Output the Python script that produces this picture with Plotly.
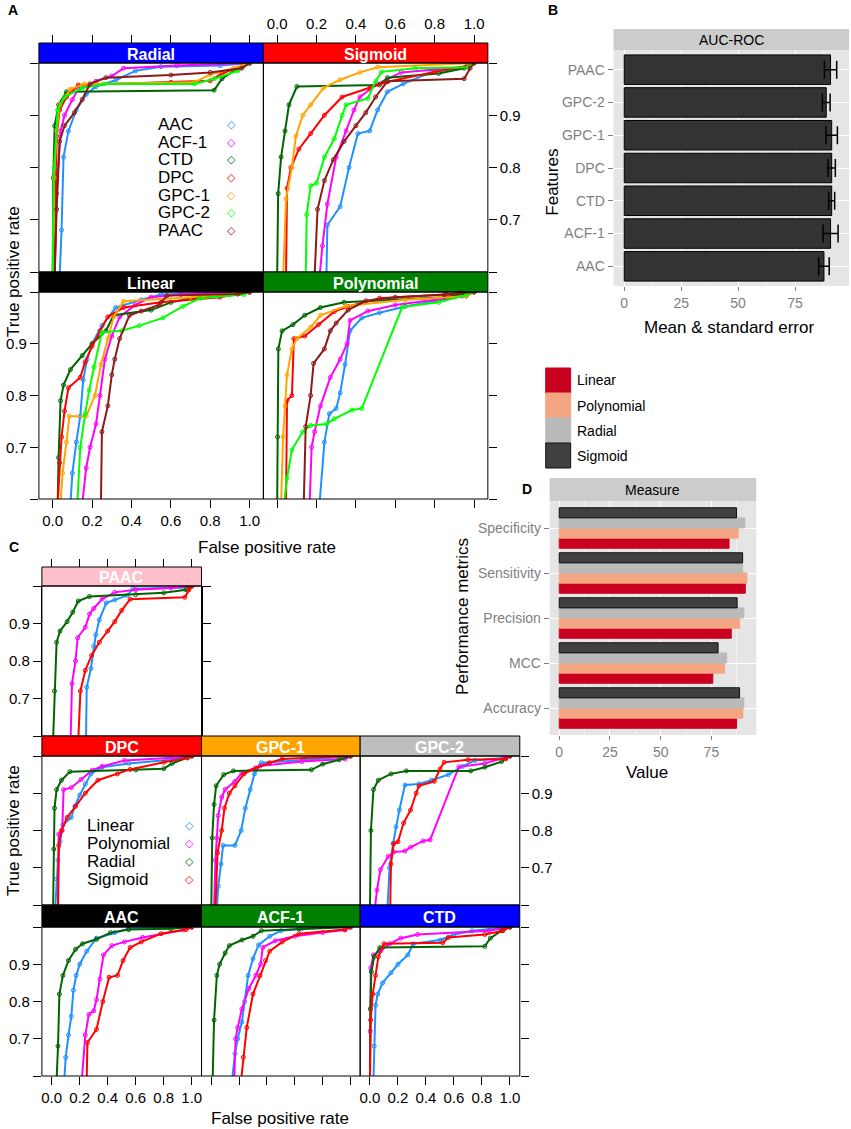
import plotly.graph_objects as go

W, H = 851, 1129
FONT = "Liberation Sans, Arial, sans-serif"

features = ["AAC", "ACF-1", "CTD", "DPC", "GPC-1", "GPC-2", "PAAC"]
kernels = ["Linear", "Polynomial", "Radial", "Sigmoid"]

feature_colors = {"AAC": "#1E90FF", "ACF-1": "#FF00FF", "CTD": "#006400", "DPC": "#FF0000",
                  "GPC-1": "#FFA500", "GPC-2": "#00FF00", "PAAC": "#8B1A1A"}
kernel_colors = {"Linear": "#1E90FF", "Polynomial": "#FF00FF", "Radial": "#006400", "Sigmoid": "#FF0000"}
kernel_strip = {"Radial": "#0000FF", "Sigmoid": "#FF0000", "Linear": "#000000", "Polynomial": "#008000"}
feature_strip = {"PAAC": "#FFC0CB", "DPC": "#FF0000", "GPC-1": "#FFA500", "GPC-2": "#BEBEBE",
                 "AAC": "#000000", "ACF-1": "#008000", "CTD": "#0000FF"}

# ROC curves (false positive rate / true positive rate)
radial_fpr = {
    "AAC": [0.035, 0.045, 0.055, 0.08, 0.12, 0.17, 0.22, 0.32, 0.42, 0.55, 0.85, 1.0],
    "ACF-1": [0.01, 0.02, 0.04, 0.06, 0.1, 0.13, 0.22, 0.3, 0.36, 0.63, 1.0],
    "CTD": [0.0, 0.003, 0.01, 0.03, 0.07, 0.82, 0.86, 0.94, 1.0],
    "DPC": [0.01, 0.015, 0.02, 0.035, 0.07, 0.13, 0.6, 0.8, 0.86, 0.97, 1.0],
    "GPC-1": [0.0, 0.007, 0.02, 0.035, 0.09, 0.16, 0.72, 0.8, 0.92, 1.0],
    "GPC-2": [0.0, 0.007, 0.025, 0.06, 0.15, 0.26, 0.72, 0.82, 0.94, 1.0],
    "PAAC": [0.01, 0.02, 0.035, 0.06, 0.11, 0.15, 0.19, 0.27, 0.6, 0.8, 0.96, 1.0],
}
radial_tpr = {
    "AAC": [0.59, 0.68, 0.82, 0.87, 0.91, 0.94, 0.955, 0.967, 0.985, 0.993, 0.995, 1.0],
    "ACF-1": [0.59, 0.75, 0.87, 0.9, 0.93, 0.95, 0.965, 0.975, 0.99, 0.995, 1.0],
    "CTD": [0.59, 0.78, 0.88, 0.92, 0.945, 0.948, 0.97, 0.99, 1.0],
    "DPC": [0.59, 0.75, 0.86, 0.91, 0.935, 0.958, 0.963, 0.966, 0.98, 0.995, 1.0],
    "GPC-1": [0.59, 0.78, 0.87, 0.92, 0.95, 0.96, 0.963, 0.978, 0.99, 1.0],
    "GPC-2": [0.59, 0.8, 0.91, 0.935, 0.952, 0.96, 0.96, 0.97, 0.985, 1.0],
    "PAAC": [0.59, 0.72, 0.85, 0.88, 0.905, 0.93, 0.96, 0.972, 0.977, 0.982, 0.99, 1.0],
}
sigmoid_fpr = {
    "AAC": [0.25, 0.255, 0.32, 0.365, 0.41, 0.47, 0.51, 0.56, 0.64, 0.78, 0.96, 1.0],
    "ACF-1": [0.215, 0.23, 0.255, 0.3, 0.35, 0.39, 0.42, 0.51, 0.63, 0.96, 1.0],
    "CTD": [0.0, 0.005, 0.02, 0.04, 0.06, 0.1, 0.52, 0.56, 0.82, 0.95, 1.0],
    "DPC": [0.045, 0.05, 0.07, 0.11, 0.17, 0.24, 0.33, 0.47, 0.56, 0.8, 0.97, 1.0],
    "GPC-1": [0.03, 0.045, 0.075, 0.095, 0.13, 0.17, 0.235, 0.32, 0.42, 0.51, 1.0],
    "GPC-2": [0.145, 0.15, 0.17, 0.2, 0.24, 0.29, 0.33, 0.35, 0.46, 0.5, 0.53, 0.7, 0.97, 1.0],
    "PAAC": [0.19, 0.205, 0.24, 0.285, 0.34, 0.4, 0.45, 0.5, 0.56, 0.95, 0.98, 1.0],
}
sigmoid_tpr = {
    "AAC": [0.59, 0.69, 0.725, 0.8, 0.865, 0.87, 0.91, 0.945, 0.96, 0.982, 0.993, 1.0],
    "ACF-1": [0.59, 0.65, 0.73, 0.82, 0.87, 0.91, 0.935, 0.96, 0.982, 0.993, 1.0],
    "CTD": [0.59, 0.75, 0.82, 0.87, 0.92, 0.955, 0.958, 0.972, 0.98, 0.99, 1.0],
    "DPC": [0.59, 0.76, 0.8, 0.835, 0.865, 0.9, 0.935, 0.952, 0.964, 0.983, 0.995, 1.0],
    "GPC-1": [0.59, 0.74, 0.8, 0.86, 0.9, 0.92, 0.952, 0.968, 0.982, 0.992, 1.0],
    "GPC-2": [0.59, 0.71, 0.765, 0.77, 0.82, 0.855, 0.9, 0.92, 0.932, 0.965, 0.983, 0.99, 0.992, 1.0],
    "PAAC": [0.59, 0.72, 0.775, 0.815, 0.85, 0.88, 0.905, 0.935, 0.965, 0.97, 0.99, 1.0],
}
linear_fpr = {
    "AAC": [0.09, 0.1, 0.12, 0.14, 0.155, 0.175, 0.2, 0.25, 0.32, 0.45, 0.55, 1.0],
    "ACF-1": [0.15, 0.17, 0.19, 0.22, 0.24, 0.265, 0.3, 0.34, 0.42, 0.5, 0.65, 1.0],
    "CTD": [0.025, 0.03, 0.04, 0.055, 0.09, 0.15, 0.2, 0.27, 0.31, 0.5, 0.6, 0.73, 1.0],
    "DPC": [0.025, 0.035, 0.045, 0.06, 0.08, 0.14, 0.165, 0.2, 0.24, 0.28, 0.36, 0.55, 0.85, 1.0],
    "GPC-1": [0.04, 0.05, 0.07, 0.085, 0.17, 0.215, 0.245, 0.28, 0.31, 0.36, 0.7, 1.0],
    "GPC-2": [0.125, 0.14, 0.165, 0.185, 0.21, 0.25, 0.35, 0.44, 0.56, 0.66, 0.75, 0.97, 1.0],
    "PAAC": [0.245, 0.25, 0.28, 0.3, 0.315, 0.34, 0.39, 0.45, 0.54, 0.58, 0.94, 1.0],
}
linear_tpr = {
    "AAC": [0.59, 0.65, 0.71, 0.76, 0.83, 0.87, 0.9, 0.935, 0.97, 0.985, 0.995, 1.0],
    "ACF-1": [0.59, 0.66, 0.7, 0.745, 0.8, 0.87, 0.915, 0.952, 0.975, 0.99, 0.995, 1.0],
    "CTD": [0.59, 0.68, 0.79, 0.82, 0.85, 0.877, 0.9, 0.925, 0.955, 0.965, 0.98, 0.99, 1.0],
    "DPC": [0.59, 0.67, 0.72, 0.77, 0.815, 0.835, 0.865, 0.895, 0.925, 0.952, 0.97, 0.98, 0.99, 1.0],
    "GPC-1": [0.59, 0.65, 0.71, 0.76, 0.76, 0.8, 0.86, 0.91, 0.952, 0.982, 0.99, 1.0],
    "GPC-2": [0.59, 0.7, 0.765, 0.81, 0.855, 0.922, 0.925, 0.935, 0.95, 0.972, 0.988, 0.995, 1.0],
    "PAAC": [0.59, 0.73, 0.78, 0.84, 0.87, 0.91, 0.955, 0.963, 0.975, 0.993, 0.996, 1.0],
}
poly_fpr = {
    "AAC": [0.215, 0.24, 0.265, 0.3, 0.32, 0.345, 0.37, 0.43, 0.52, 0.65, 0.94, 1.0],
    "ACF-1": [0.165, 0.175, 0.19, 0.22, 0.27, 0.32, 0.355, 0.37, 0.46, 0.6, 0.8, 0.96, 1.0],
    "CTD": [0.0, 0.002, 0.006, 0.025, 0.08, 0.14, 0.22, 0.34, 0.85, 1.0],
    "DPC": [0.045, 0.05, 0.075, 0.085, 0.14, 0.21, 0.29, 0.36, 0.52, 0.86, 1.0],
    "GPC-1": [0.02, 0.03, 0.04, 0.05, 0.075, 0.1, 0.17, 0.22, 0.35, 0.65, 0.96, 1.0],
    "GPC-2": [0.035, 0.05, 0.075, 0.13, 0.17, 0.25, 0.29, 0.38, 0.43, 0.635, 0.82, 0.96, 1.0],
    "PAAC": [0.135, 0.145, 0.17, 0.185, 0.24, 0.27, 0.3, 0.36, 0.45, 0.6, 0.85, 1.0],
}
poly_tpr = {
    "AAC": [0.59, 0.71, 0.765, 0.775, 0.805, 0.86, 0.925, 0.95, 0.96, 0.972, 0.992, 1.0],
    "ACF-1": [0.59, 0.7, 0.73, 0.78, 0.835, 0.87, 0.9, 0.945, 0.963, 0.975, 0.985, 0.992, 1.0],
    "CTD": [0.59, 0.72, 0.89, 0.925, 0.937, 0.955, 0.97, 0.98, 0.99, 1.0],
    "DPC": [0.59, 0.79, 0.8, 0.91, 0.915, 0.937, 0.962, 0.972, 0.988, 0.995, 1.0],
    "GPC-1": [0.59, 0.72, 0.78, 0.84, 0.89, 0.91, 0.932, 0.955, 0.973, 0.985, 0.992, 1.0],
    "GPC-2": [0.59, 0.64, 0.695, 0.73, 0.742, 0.745, 0.755, 0.772, 0.775, 0.971, 0.98, 0.994, 1.0],
    "PAAC": [0.59, 0.74, 0.8, 0.862, 0.89, 0.925, 0.94, 0.965, 0.983, 0.99, 0.995, 1.0],
}

# panel B: AUC-ROC mean and standard error per feature
auc_mean = [87.7, 90.6, 91.1, 91.1, 91.1, 88.7, 90.6]
auc_se = [2.3, 3.3, 1.3, 1.6, 2.5, 1.7, 2.7]

# panel D: performance metrics per kernel
metrics = ["Accuracy", "MCC", "Precision", "Sensitivity", "Specificity"]
linear_vals = [87.4, 75.7, 84.8, 91.7, 83.7]
poly_vals = [90.5, 81.5, 88.9, 92.5, 88.2]
radial_vals = [91.0, 82.5, 91.0, 90.4, 91.5]
sigmoid_vals = [88.9, 78.3, 87.7, 90.4, 87.4]
bar_colors = {"Linear": "#CA0020", "Polynomial": "#F4A582", "Radial": "#BABABA", "Sigmoid": "#404040"}

fpr = {"Linear": linear_fpr, "Polynomial": poly_fpr, "Radial": radial_fpr, "Sigmoid": sigmoid_fpr}
tpr = {"Linear": linear_tpr, "Polynomial": poly_tpr, "Radial": radial_tpr, "Sigmoid": sigmoid_tpr}
kernel_vals = {"Linear": linear_vals, "Polynomial": poly_vals, "Radial": radial_vals, "Sigmoid": sigmoid_vals}


def px(x):
    return x / W


def py(y):
    return 1 - y / H


fig = go.Figure()
layout = {}
shapes = []
annots = []


def note(text, x, y, size, color="black", xanchor="center", angle=0, family=None):
    f = dict(size=size, color=color)
    if family:
        f["family"] = family
    annots.append(dict(text=text, x=px(x), y=py(y), xref="paper", yref="paper", showarrow=False,
                       xanchor=xanchor, yanchor="middle", textangle=angle, font=f))


def ax_name(n, kind):
    return kind if n == 1 else kind + str(n)


def lattice_panel(n, x0, x1, y0, y1, s0, label, scol, xside, xlab, yside, ylab, ymirror=False):
    xa = dict(domain=[px(x0), px(x1)], range=[-0.07, 1.07], showgrid=False, zeroline=False,
              showline=False, tickvals=[0, 0.2, 0.4, 0.6, 0.8, 1.0],
              ticktext=["0.0", "0.2", "0.4", "0.6", "0.8", "1.0"],
              ticks="outside" if xside else "", ticklen=8, tickcolor="black",
              showticklabels=xlab, tickfont=dict(size=15, color="black"),
              anchor=ax_name(n, "y"))
    if xside == "top":
        xa.update(anchor="free", position=py(s0), side="top")
    ya = dict(domain=[py(y1), py(y0)], range=[0.6, 1.0], showgrid=False, zeroline=False,
              showline=ymirror, linecolor="black", tickvals=[0.6, 0.7, 0.8, 0.9, 1.0],
              ticktext=["", "0.7", "0.8", "0.9", ""],
              ticks="outside" if yside else "", ticklen=8, tickcolor="black",
              showticklabels=ylab, tickfont=dict(size=15, color="black"),
              side=yside or "left", anchor=ax_name(n, "x"))
    if ymirror:
        ya["mirror"] = "ticks"
    layout["xaxis" if n == 1 else "xaxis%d" % n] = xa
    layout["yaxis" if n == 1 else "yaxis%d" % n] = ya
    shapes.append(dict(type="rect", xref="paper", yref="paper", x0=px(x0), x1=px(x1),
                       y0=py(y0), y1=py(s0), fillcolor=scol, line=dict(color="black", width=1)))
    shapes.append(dict(type="rect", xref="paper", yref="paper", x0=px(x0), x1=px(x1),
                       y0=py(y1), y1=py(y0), line=dict(color="black", width=1)))
    note("<b>%s</b>" % label, (x0 + x1) / 2, (s0 + y0) / 2 + 1, 16, color="white")


def add_curve(n, xs, ys, color):
    fig.add_trace(go.Scatter(x=xs, y=ys, mode="lines+markers", xaxis=ax_name(n, "x"),
                             yaxis=ax_name(n, "y"), line=dict(color=color, width=2),
                             marker=dict(symbol="circle-open", size=4, color=color, line=dict(width=1)),
                             showlegend=False, hoverinfo="skip"))


# panel A: one panel per kernel, curves per feature
a_panels = [
    ("Radial", 1, 38, 263, 63, 272, 43, "top", False, "left", False),
    ("Sigmoid", 2, 263, 488, 63, 272, 43, "top", True, "right", True),
    ("Linear", 3, 38, 263, 292, 499, 272, "bottom", True, "left", True),
    ("Polynomial", 4, 263, 488, 292, 499, 272, "bottom", False, "right", False),
]
for k, n, x0, x1, y0, y1, s0, xs, xl, ys, yl in a_panels:
    lattice_panel(n, x0, x1, y0, y1, s0, k, kernel_strip[k], xs, xl, ys, yl)
    for f in features:
        add_curve(n, fpr[k][f], tpr[k][f], feature_colors[f])

# panel C: one panel per feature, curves per kernel
c_panels = [
    ("PAAC", 5, 41, 201, 586, 736, 567, "top", False, "left", True, True),
    ("DPC", 6, 41, 201, 756, 905, 736, None, False, "left", False, False),
    ("GPC-1", 7, 201, 360, 756, 905, 736, None, False, None, False, False),
    ("GPC-2", 8, 360, 520, 756, 905, 736, None, False, "right", True, False),
    ("AAC", 9, 41, 201, 927, 1076, 905, "bottom", True, "left", True, False),
    ("ACF-1", 10, 201, 360, 927, 1076, 905, "bottom", False, None, False, False),
    ("CTD", 11, 360, 520, 927, 1076, 905, "bottom", True, "right", False, False),
]
for f, n, x0, x1, y0, y1, s0, xs, xl, ys, yl, mir in c_panels:
    lattice_panel(n, x0, x1, y0, y1, s0, f, feature_strip[f], xs, xl, ys, yl, ymirror=mir)
    for k in kernels:
        add_curve(n, fpr[k][f], tpr[k][f], kernel_colors[k])

# legends inside the lattice panels
for i, f in enumerate(features):
    yy = 125 + i * 17.5
    note(f, 155, yy, 17, xanchor="left")
    note("\u25c7", 231, yy, 11, color=feature_colors[f], family="DejaVu Sans")
for i, k in enumerate(kernels):
    yy = 825 + i * 18.3
    note(k, 84, yy, 17, xanchor="left")
    note("\u25c7", 189, yy, 11, color=kernel_colors[k], family="DejaVu Sans")

# panel B
fig.add_trace(go.Bar(x=auc_mean, y=features, orientation="h", xaxis="x12", yaxis="y12",
                     marker=dict(color="#333333", line=dict(color="black", width=1)),
                     error_x=dict(type="data", array=auc_se, color="black", thickness=1.5, width=9),
                     showlegend=False, hoverinfo="skip"))
gg_tick = dict(size=14, color="#7F7F7F")
layout["xaxis12"] = dict(domain=[px(614), px(850)], range=[-4.7, 98.7], anchor="y12",
                         tickvals=[0, 25, 50, 75], ticks="outside", ticklen=4, tickcolor="#7F7F7F",
                         tickfont=gg_tick, showgrid=True, gridcolor="white", gridwidth=1.3,
                         zeroline=False, showline=False,
                         minor=dict(tickvals=[12.5, 37.5, 62.5, 87.5], showgrid=True,
                                    gridcolor="#F2F2F2", gridwidth=0.7, ticks=""))
layout["yaxis12"] = dict(domain=[py(286), py(50)], range=[-0.6, 6.6], anchor="x12",
                         categoryorder="array", categoryarray=features, ticks="outside",
                         ticklen=5, tickcolor="#7F7F7F", tickfont=gg_tick, showgrid=True,
                         gridcolor="white", gridwidth=1.3, zeroline=False, showline=False)
shapes.append(dict(type="rect", xref="x12 domain", yref="y12 domain", x0=0, x1=1, y0=0, y1=1,
                   fillcolor="#E5E5E5", line=dict(width=0), layer="below"))
shapes.append(dict(type="rect", xref="paper", yref="paper", x0=px(614), x1=px(850), y0=py(50),
                   y1=py(29), fillcolor="#CCCCCC", line=dict(width=0)))
note("AUC-ROC", 732, 39.5, 14)

# panel D
for k in kernels:
    fig.add_trace(go.Bar(x=kernel_vals[k], y=metrics, orientation="h", name=k,
                         xaxis="x13", yaxis="y13",
                         marker=dict(color=bar_colors[k],
                                     line=dict(color="#111111" if k == "Sigmoid" else bar_colors[k],
                                               width=1)),
                         showlegend=False, hoverinfo="skip"))
layout["xaxis13"] = dict(domain=[px(550), px(757)], range=[-4.7, 97.1], anchor="y13",
                         tickvals=[0, 25, 50, 75], ticks="outside", ticklen=4, tickcolor="#7F7F7F",
                         tickfont=gg_tick, showgrid=True, gridcolor="white", gridwidth=1.3,
                         zeroline=False, showline=False,
                         minor=dict(tickvals=[12.5, 37.5, 62.5, 87.5], showgrid=True,
                                    gridcolor="#F2F2F2", gridwidth=0.7, ticks=""))
layout["yaxis13"] = dict(domain=[py(735), py(501)], range=[-0.6, 4.6], anchor="x13",
                         categoryorder="array", categoryarray=metrics, ticks="outside",
                         ticklen=5, tickcolor="#7F7F7F", tickfont=gg_tick, showgrid=True,
                         gridcolor="white", gridwidth=1.3, zeroline=False, showline=False)
shapes.append(dict(type="rect", xref="x13 domain", yref="y13 domain", x0=0, x1=1, y0=0, y1=1,
                   fillcolor="#E5E5E5", line=dict(width=0), layer="below"))
shapes.append(dict(type="rect", xref="paper", yref="paper", x0=px(550), x1=px(757), y0=py(501),
                   y1=py(478), fillcolor="#CCCCCC", line=dict(width=0)))
note("Measure", 653.5, 489.5, 14)

# legend for panel D
for i, k in enumerate(kernels):
    top = 368 + i * 25
    shapes.append(dict(type="rect", xref="paper", yref="paper", x0=px(546), x1=px(571),
                       y0=py(top + 25), y1=py(top), fillcolor=bar_colors[k],
                       line=dict(color="#111111" if k == "Sigmoid" else bar_colors[k], width=1)))
    note(k, 575, top + 12.5, 14, xanchor="left")

# titles and panel letters
note("True positive rate", 12, 271, 17, angle=-90)
note("False positive rate", 267, 547, 17)
note("True positive rate", 12, 830, 17, angle=-90)
note("False positive rate", 280, 1118, 17)
note("Features", 552, 182, 17, angle=-90)
note("Mean &amp; standard error", 730, 327, 17)
note("Performance metrics", 462, 616, 17, angle=-90)
note("Value", 648, 772, 17)
for t, x, y in [("A", 12, 10), ("B", 553, 10), ("C", 13, 547), ("D", 527, 489)]:
    note("<b>%s</b>" % t, x, y, 14)

fig.update_layout(**layout)
fig.update_layout(width=W, height=H, margin=dict(l=0, r=0, t=0, b=0),
                  paper_bgcolor="white", plot_bgcolor="rgba(0,0,0,0)",
                  font=dict(family=FONT, color="black"), barmode="group",
                  bargap=0.1, bargroupgap=0, shapes=shapes, annotations=annots,
                  showlegend=False)

fig.write_html("out.html", config={"displayModeBar": False},
               post_script="document.body.style.margin='0px';")
